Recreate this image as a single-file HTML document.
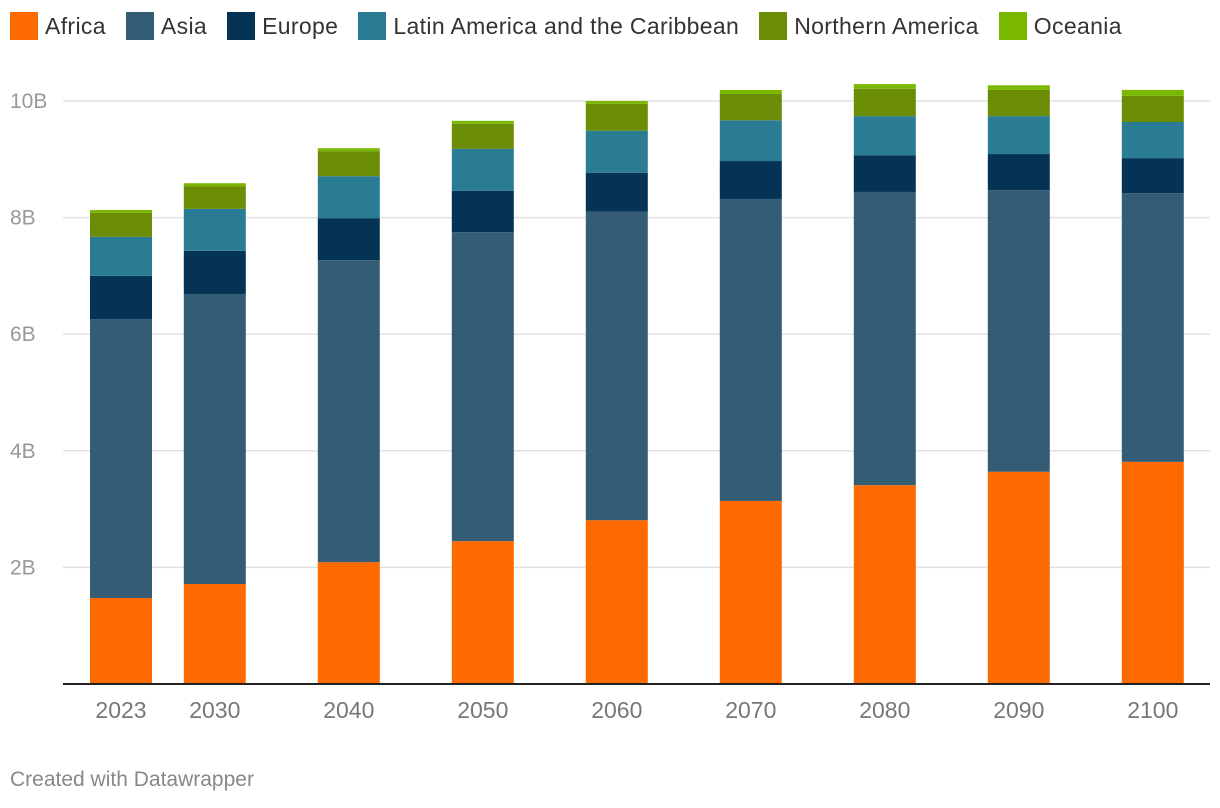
<!DOCTYPE html>
<html><head><meta charset="utf-8"><style>
body{margin:0;width:1220px;height:808px;background:#fff;font-family:"Liberation Sans",sans-serif;overflow:hidden}
.legend{position:absolute;top:12px;left:10px;display:flex;font-size:23px;color:#333;letter-spacing:0.35px}
.li{display:flex;align-items:center;margin-right:20px}
.sw{width:28px;height:28px;margin-right:7px}
.foot{position:absolute;left:10px;top:768px;font-size:21px;color:#888}
</style></head><body>
<div class="legend">
<div class="li"><div class="sw" style="background:#ff6a00"></div>Africa</div>
<div class="li"><div class="sw" style="background:#345c75"></div>Asia</div>
<div class="li"><div class="sw" style="background:#043356"></div>Europe</div>
<div class="li"><div class="sw" style="background:#2a7b94"></div>Latin America and the Caribbean</div>
<div class="li"><div class="sw" style="background:#6b8c05"></div>Northern America</div>
<div class="li"><div class="sw" style="background:#7ab800"></div>Oceania</div>
</div>
<svg id="chart" width="1220" height="808" style="position:absolute;left:0;top:0"></svg>
<div class="foot">Created with Datawrapper</div>
<script>
const years=[2023,2030,2040,2050,2060,2070,2080,2090,2100];
const africa=[1.475,1.715,2.09,2.45,2.81,3.14,3.41,3.64,3.81];
const asia=[4.785,4.975,5.18,5.30,5.29,5.18,5.03,4.83,4.61];
const europe=[0.74,0.74,0.72,0.71,0.67,0.65,0.63,0.62,0.60];
const latam=[0.67,0.72,0.72,0.72,0.72,0.70,0.67,0.65,0.62];
const namerica=[0.41,0.39,0.43,0.43,0.46,0.45,0.47,0.45,0.45];
const oceania=[0.05,0.05,0.05,0.05,0.05,0.07,0.08,0.08,0.10];
const yTicks=[2,4,6,8,10];
const series=[["africa",africa,"#ff6a00"],["asia",asia,"#345c75"],["europe",europe,"#043356"],["latin-america",latam,"#2a7b94"],["northern-america",namerica,"#6b8c05"],["oceania",oceania,"#7ab800"]];
const svg=document.getElementById('chart');const NS="http://www.w3.org/2000/svg";
const y=v=>684-v*58.3;const x=yr=>121+(yr-2023)*13.4;
function mk(t,a){const e=document.createElementNS(NS,t);for(const k in a)e.setAttribute(k,a[k]);svg.appendChild(e);return e;}
yTicks.forEach(t=>{
const g=mk('line',{x1:63,x2:1210,y1:y(t),y2:y(t),stroke:'#e2e2e2','stroke-width':1.5});


const l=mk('text',{x:10,y:y(t)+7,'font-size':21,fill:'#999','font-family':'Liberation Sans, sans-serif'});l.textContent=t+'B';


});
years.forEach((yr,i)=>{
let base=0;
series.forEach(([n,arr,c])=>{
const r=mk('rect',{x:x(yr)-31,width:62,y:y(base+arr[i]),height:arr[i]*58.3,fill:c});


base+=arr[i];});
const l=mk('text',{x:x(yr),y:718,'font-size':23,fill:'#777','text-anchor':'middle','font-family':'Liberation Sans, sans-serif'});l.textContent=yr;


});
const ax=mk('line',{x1:63,x2:1210,y1:684,y2:684,stroke:'#222','stroke-width':2});


</script>
</body></html>
